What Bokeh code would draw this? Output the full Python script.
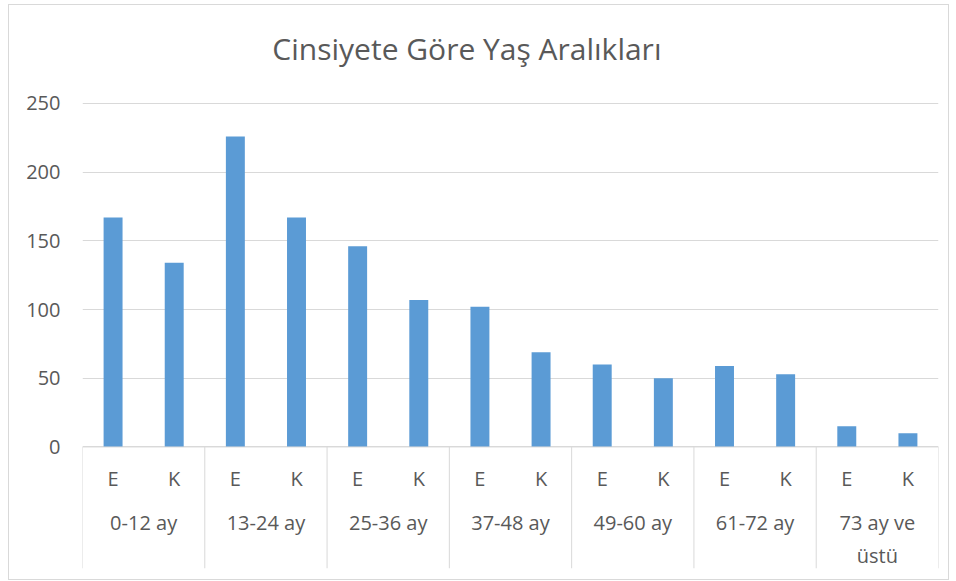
from bokeh.plotting import figure
from bokeh.models import Range1d, FixedTicker, ColumnDataSource
from bokeh.core.properties import value
from bokeh.embed import file_html
from bokeh.resources import INLINE

title_text = "Cinsiyete Göre Yaş Aralıkları"
groups = ["0-12 ay", "13-24 ay", "25-36 ay", "37-48 ay", "49-60 ay", "61-72 ay", "73 ay ve\nüstü"]
genders = ["E", "K"]
e_values = [167, 226, 146, 102, 60, 59, 15]
k_values = [134, 167, 107, 69, 50, 53, 10]
y_ticks = [0, 50, 100, 150, 200, 250]

TEXT = "#595959"
GRID = "#D9D9D9"
BAR = "#5B9BD5"
FONT = "Open Sans"

n = len(groups)
xs, tops, sub_labels = [], [], []
for g in range(n):
    for s, vals in enumerate([e_values, k_values]):
        xs.append(2 * g + s + 0.5)
        tops.append(vals[g])
        sub_labels.append(genders[s])

# pixel geometry of the plot region (page coordinates)
zero_px, top_px, frame_top, frame_bottom = 445, 103, 5.5, 566
px_per_unit = (zero_px - top_px) / 250.0
y_end = (zero_px - frame_top) / px_per_unit
y_start = -(frame_bottom - zero_px) / px_per_unit

p = figure(width=941, height=576, output_backend="svg", toolbar_location=None,
           x_range=Range1d(0, 2 * n), y_range=Range1d(y_start, y_end),
           min_border_left=73, min_border_right=12, min_border_top=0, min_border_bottom=13)
p.styles = {"border": "1px solid #D9D9D9", "box-sizing": "border-box",
            "margin-left": "8px", "margin-top": "4px"}

p.outline_line_color = None
p.xaxis.visible = False
p.xgrid.visible = False
p.yaxis.ticker = FixedTicker(ticks=y_ticks)
p.ygrid.ticker = FixedTicker(ticks=y_ticks)
p.ygrid.grid_line_color = GRID
p.ygrid.grid_line_width = 1
p.yaxis.axis_line_color = None
p.yaxis.major_tick_line_color = None
p.yaxis.minor_tick_line_color = None
p.yaxis.major_label_standoff = 16
p.yaxis.major_label_text_font = FONT
p.yaxis.major_label_text_font_size = "20px"
p.yaxis.major_label_text_color = TEXT

src = ColumnDataSource(dict(x=xs, top=tops, lab=sub_labels))
p.vbar(x="x", top="top", width=0.31, bottom=0, source=src, color=BAR, line_color=None)

# category axis
p.segment(x0=[0], y0=[0], x1=[2 * n], y1=[0], line_color=GRID, line_width=1)
sep_x = [2 * g for g in range(n + 1)]
p.segment(x0=sep_x, y0=[0] * len(sep_x), x1=sep_x, y1=[y_start] * len(sep_x),
          line_color=GRID, line_width=1)

p.text(x="x", y=-31 / px_per_unit, text="lab", source=src, text_align="center",
       text_baseline="middle", text_font=value(FONT), text_font_size="20px", text_color=TEXT)

gsrc = ColumnDataSource(dict(x=[2 * g + 1 for g in range(n)], lab=groups))
p.text(x="x", y=-(507 - zero_px) / px_per_unit, text="lab", source=gsrc, text_align="center",
       text_baseline="top", text_font=value(FONT), text_font_size="20px", text_color=TEXT,
       text_line_height=1.2)

# chart title
p.text(x=[(467.5 - 84) / 61.0], y=[(zero_px - 48) / px_per_unit], text=[title_text],
       text_align="center", text_baseline="middle", text_font=value(FONT),
       text_font_size="30px", text_color=TEXT)

open("out.html", "w").write(file_html(p, INLINE))
